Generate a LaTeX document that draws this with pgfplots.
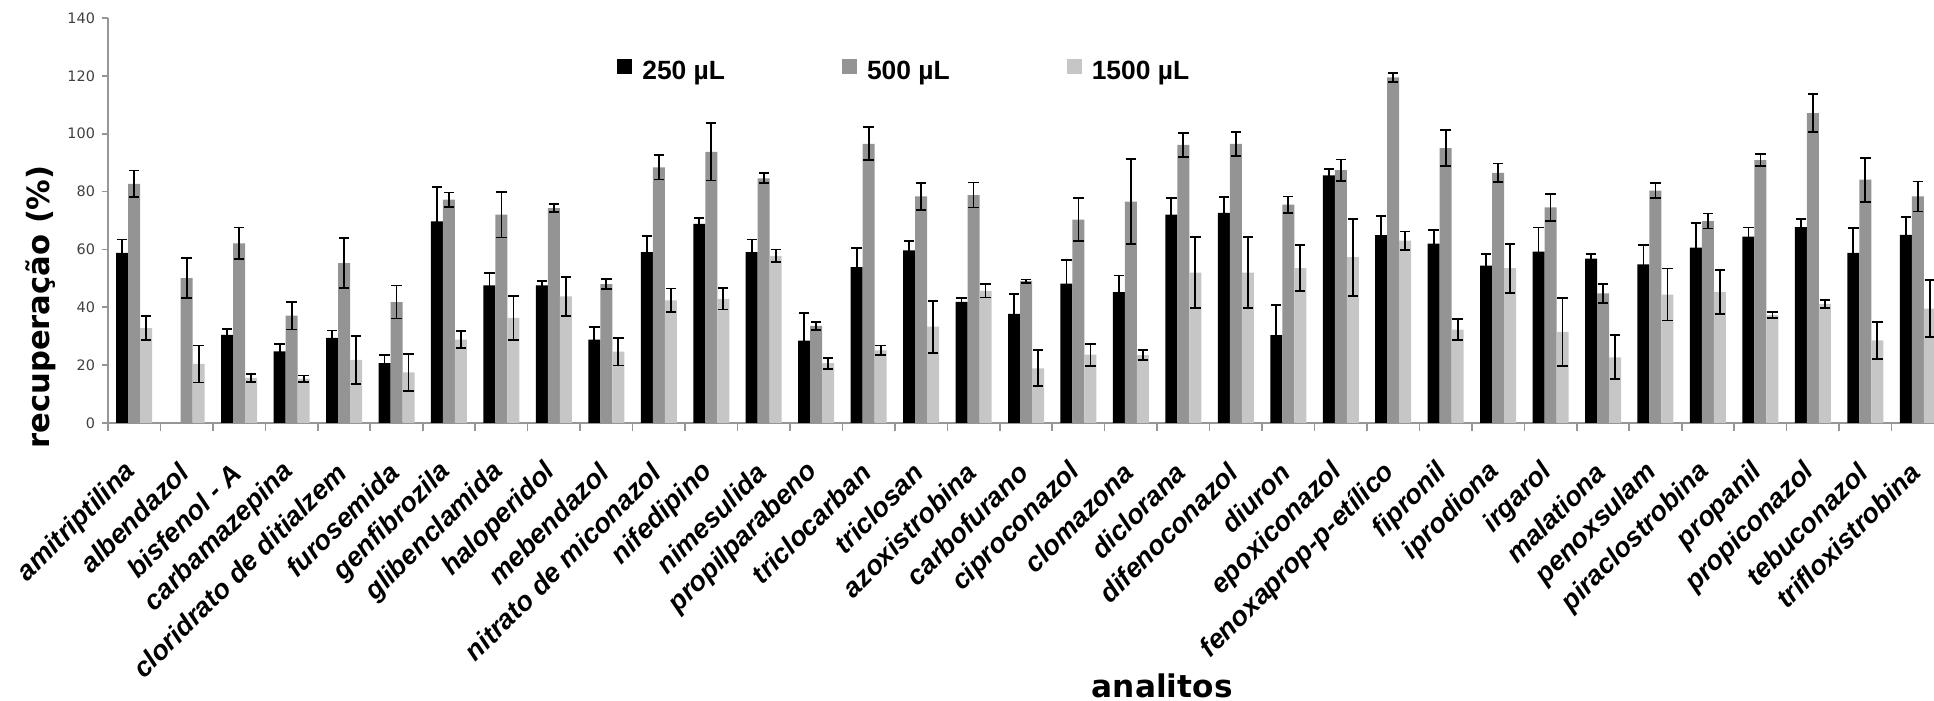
\documentclass[border=0pt]{standalone}
\usepackage{fontspec}
\setmainfont{Liberation Sans}
\newfontfamily\tickfont{DejaVu Sans}
\newfontfamily\labfont{DejaVu Sans}
\usepackage{pgfplots}
\usepackage{pgfplotstable}
\pgfplotsset{compat=1.18}
\definecolor{cB}{RGB}{148,148,148}
\definecolor{cC}{RGB}{198,198,198}
\definecolor{axgray}{RGB}{150,150,150}

\pgfplotstableread{
x a ea b eb c ec
0 58.8 4.6 82.7 4.6 32.8 4.1
1 nan nan 50.1 7.0 20.4 6.4
2 30.5 2.1 62.1 5.5 15.6 1.4
3 24.8 2.6 37.1 4.8 15.3 1.1
4 29.4 2.6 55.3 8.6 21.8 8.4
5 20.7 2.8 41.8 5.7 17.5 6.4
6 69.7 11.9 77.2 2.5 28.8 2.9
7 47.6 4.2 72.0 7.9 36.3 7.5
8 47.6 1.4 74.3 1.5 43.8 6.7
9 28.8 4.3 48.0 1.8 24.7 4.8
10 59.1 5.6 88.4 4.2 42.4 4.1
11 68.8 2.1 93.7 9.9 42.9 3.7
12 59.1 4.3 84.6 1.7 57.8 2.2
13 28.5 9.4 33.6 1.4 20.7 1.9
14 53.9 6.6 96.5 5.7 25.1 1.7
15 59.7 3.2 78.3 4.7 33.3 9.0
16 41.9 1.3 78.8 4.3 45.7 2.3
17 37.7 7.0 49.0 0.6 18.9 6.2
18 48.2 8.1 70.3 7.5 23.6 3.8
19 45.2 5.8 76.5 14.7 23.5 1.8
20 72.0 5.8 96.1 4.1 52.0 12.2
21 72.6 5.5 96.5 4.2 52.0 12.3
22 30.4 10.4 75.5 2.8 53.5 8.0
23 85.6 2.2 87.4 3.7 57.3 13.3
24 64.9 6.6 119.5 1.5 63.0 3.2
25 62.0 4.7 95.0 6.2 32.3 3.7
26 54.4 4.1 86.5 3.2 53.5 8.5
27 59.2 8.4 74.5 4.7 31.5 11.7
28 56.8 1.7 44.8 3.2 22.7 7.6
29 54.8 6.6 80.3 2.6 44.4 9.0
30 60.6 8.5 69.8 2.6 45.3 7.5
31 64.4 3.2 90.9 2.2 37.3 1.0
32 67.7 2.8 107.1 6.6 41.2 1.4
33 58.8 8.5 84.1 7.6 28.6 6.4
34 65.0 6.1 78.3 5.2 39.5 9.9
}\data

\pgfplotsset{eb/.style={error bars/.cd, y dir=both, y explicit,
  error bar style={draw=black, line width=0.9pt},
  error mark options={rotate=90, draw=black, mark size=2.6pt, line width=0.9pt}}}

\begin{document}
\begin{tikzpicture}
\path[use as bounding box] (0,0) rectangle (967pt,350.5pt);
\begin{axis}[
  at={(54pt,139pt)}, anchor=south west,
  scale only axis, width=918pt, height=202.5pt,
  xmin=-0.5, xmax=34.5, ymin=0, ymax=140,
  axis lines*=left,
  axis line style={axgray, line width=1pt},
  ybar=0pt, bar width=6pt,
  ytick={0,20,...,140},
  xtick={0,...,34},
  xticklabels={amitriptilina,albendazol,bisfenol - A,carbamazepina,cloridrato de ditialzem,furosemida,genfibrozila,glibenclamida,haloperidol,mebendazol,nitrato de miconazol,nifedipino,nimesulida,propilparabeno,triclocarban,triclosan,azoxistrobina,carbofurano,ciproconazol,clomazona,diclorana,difenoconazol,diuron,epoxiconazol,fenoxaprop-p-etílico,fipronil,iprodiona,irgarol,malationa,penoxsulam,piraclostrobina,propanil,propiconazol,tebuconazol,trifloxistrobina},
  minor xtick={-0.5,0.5,...,34.5},
  tick align=outside,
  major tick length=3pt, minor tick length=4pt,
  tick style={axgray, line width=0.8pt},
  major x tick style={draw=none},
  /pgf/number format/assume math mode=true,
  yticklabel style={font=\tickfont\fontsize{7.2}{8}\selectfont, text=black!75},
  xticklabel style={font=\bfseries\itshape\fontsize{13.6}{16}\selectfont, xshift=-1.2pt, yshift=-19.5pt, rotate=45, anchor=east, inner sep=0pt},
  ylabel={recuperação (\%)},
  ylabel style={font=\labfont\bfseries\fontsize{15.3}{18}\selectfont, at={(axis description cs:-0.0368,0.2864)}, anchor=center},
  xlabel={analitos},
  xlabel style={font=\labfont\bfseries\fontsize{15.6}{18}\selectfont, at={(axis description cs:0.5742,0)}, anchor=base, yshift=-137pt},
  legend style={at={(axis description cs:0.2772,0.8667)}, anchor=west, draw=none, fill=none, inner sep=0pt,
    font=\bfseries\fontsize{13.2}{16}\selectfont,
    /tikz/every even column/.append style={column sep=56.5pt},
    /tikz/every odd column/.append style={column sep=3pt}},
  legend columns=3,
  legend image code/.code={\fill[#1] (0pt,-1pt) rectangle (7.5pt,6.5pt);},
]
\addplot[fill=black, draw=none, eb] table[x=x, y=a, y error=ea]{\data};
\addplot[fill=cB, draw=none, eb] table[x=x, y=b, y error=eb]{\data};
\addplot[fill=cC, draw=none, eb] table[x=x, y=c, y error=ec]{\data};
\legend{250 µL, 500 µL, 1500 µL}
\end{axis}
\end{tikzpicture}
\end{document}
